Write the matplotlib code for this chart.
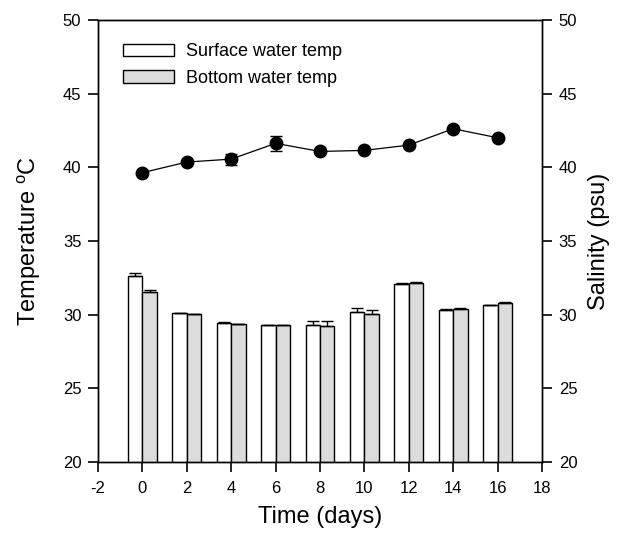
import numpy as np
import matplotlib
matplotlib.use("Agg")
import matplotlib.pyplot as plt
from matplotlib.patches import Patch

plt.rcParams['font.family'] = ['Liberation Sans', 'DejaVu Sans']
plt.rcParams['mathtext.fontset'] = 'custom'
plt.rcParams['mathtext.rm'] = 'Liberation Sans'
plt.rcParams['axes.unicode_minus'] = False

# data
days = [0, 2, 4, 6, 8, 10, 12, 14, 16]
surface_temp = [32.6, 30.11, 29.43, 29.3, 29.3, 30.16, 32.1, 30.34, 30.63]
surface_err = [0.25, 0.03, 0.04, 0.03, 0.29, 0.27, 0.03, 0.03, 0.03]
bottom_temp = [31.52, 30.05, 29.37, 29.3, 29.25, 30.07, 32.15, 30.38, 30.79]
bottom_err = [0.13, 0.03, 0.03, 0.03, 0.3, 0.22, 0.04, 0.04, 0.04]
salinity = [39.64, 40.36, 40.56, 41.63, 41.08, 41.15, 41.51, 42.62, 42.01]
salinity_err = [0.1, 0.1, 0.38, 0.52, 0.1, 0.1, 0.1, 0.1, 0.1]

fig = plt.figure(figsize=(6.18, 5.34), dpi=100)
ax = fig.add_axes([0.1586, 0.1348, 0.7184, 0.8277])

x = np.array(days)
w = 0.65
ax.bar(x - w, surface_temp, width=w, align='edge', color='white',
       edgecolor='black', linewidth=1.0)
ax.bar(x, bottom_temp, width=w, align='edge', color='#dcdcdc',
       edgecolor='black', linewidth=1.0)
ax.errorbar(x - w / 2, surface_temp, yerr=[np.zeros(len(x)), surface_err],
            fmt='none', ecolor='black', elinewidth=1, capsize=4, capthick=1)
ax.errorbar(x + w / 2, bottom_temp, yerr=[np.zeros(len(x)), bottom_err],
            fmt='none', ecolor='black', elinewidth=1, capsize=4, capthick=1)

ax.set_xlim(-2, 18)
ax.set_ylim(20, 50)
ax.set_xticks(range(-2, 19, 2))
ax.set_yticks(range(20, 51, 5))
ax.tick_params(direction='out', length=7, width=1.2, labelsize=12, pad=5)
ax.tick_params(axis='x', pad=7)
ax.set_xlabel('Time (days)', fontsize=17, labelpad=7)
ax.set_ylabel('Temperature $^{\\mathrm{o}}$C', fontsize=17, labelpad=14)

ax2 = ax.twinx()
ax2.errorbar(days, salinity, yerr=salinity_err, fmt='-o', color='black',
             markersize=9, linewidth=0.9, elinewidth=1, capsize=4, capthick=1)
ax2.set_ylim(20, 50)
ax2.set_yticks(range(20, 51, 5))
ax2.tick_params(direction='out', length=7, width=1.2, labelsize=12, pad=5)
ax2.set_ylabel('Salinity (psu)', fontsize=17, labelpad=8)

for a in (ax, ax2):
    for s in a.spines.values():
        s.set_linewidth(1.0)

handles = [Patch(facecolor='white', edgecolor='black', label='Surface water temp'),
           Patch(facecolor='#dcdcdc', edgecolor='black', label='Bottom water temp')]
ax.legend(handles=handles, loc='upper left', bbox_to_anchor=(0.02, 0.985),
          frameon=False, fontsize=13, handlelength=2.8, handleheight=0.65,
          handletextpad=0.7, labelspacing=0.55)

fig.savefig('out.png', dpi=100)
